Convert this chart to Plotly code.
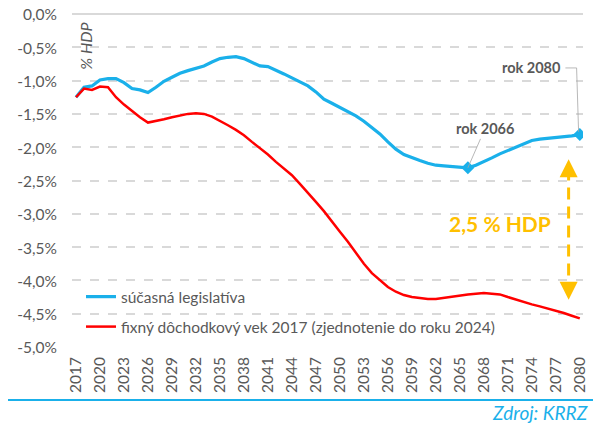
import plotly.graph_objects as go

years = list(range(2017, 2081))

# súčasná legislatíva (% HDP)
current_law = [
    -1.25, -1.10, -1.08, -0.99, -0.97, -0.97, -1.03, -1.12, -1.14, -1.18,
    -1.10, -1.01, -0.95, -0.89, -0.85, -0.81, -0.78, -0.72, -0.67, -0.65,
    -0.64, -0.67, -0.72, -0.78, -0.79, -0.84, -0.90, -0.96, -1.02, -1.08,
    -1.17, -1.28, -1.34, -1.40, -1.46, -1.53, -1.61, -1.70, -1.80, -1.92,
    -2.03, -2.11, -2.16, -2.20, -2.24, -2.27, -2.28, -2.29, -2.30, -2.31,
    -2.27, -2.22, -2.16, -2.10, -2.05, -1.99, -1.94, -1.90, -1.88, -1.87,
    -1.86, -1.85, -1.83, -1.81,
]

# fixný dôchodkový vek 2017 (% HDP)
fixed_age = [
    -1.25, -1.12, -1.14, -1.09, -1.10, -1.25, -1.36, -1.46, -1.55, -1.63,
    -1.61, -1.58, -1.55, -1.52, -1.50, -1.49, -1.50, -1.54, -1.60, -1.67,
    -1.74, -1.82, -1.92, -2.01, -2.11, -2.22, -2.32, -2.42, -2.55, -2.68,
    -2.82, -2.96, -3.12, -3.27, -3.42, -3.58, -3.75, -3.89, -3.99, -4.10,
    -4.17, -4.22, -4.25, -4.27, -4.28, -4.28, -4.26, -4.24, -4.22, -4.21,
    -4.20, -4.19, -4.20, -4.21, -4.25, -4.29, -4.33, -4.36, -4.39, -4.42,
    -4.46, -4.49, -4.53, -4.57,
]

x_ticks = list(range(2017, 2081, 3))
y_ticks = [0, -0.5, -1, -1.5, -2, -2.5, -3, -3.5, -4, -4.5, -5]
y_labels = ["0,0%", "-0,5%", "-1,0%", "-1,5%", "-2,0%", "-2,5%",
            "-3,0%", "-3,5%", "-4,0%", "-4,5%", "-5,0%"]

marked_years = [2066, 2080]

BLUE = "#1ab0ea"
RED = "#ff0000"
GOLD = "#ffc000"
GREY = "#595959"
FONT = "Lato"

fig = go.Figure()

fig.add_trace(go.Scatter(
    x=years, y=current_law, mode="lines",
    name="súčasná legislatíva",
    line=dict(color=BLUE, width=3.2),
    legend="legend",
))
fig.add_trace(go.Scatter(
    x=years, y=fixed_age, mode="lines",
    name="fixný dôchodkový vek 2017 (zjednotenie do roku 2024)",
    line=dict(color=RED, width=2.5),
    legend="legend2",
))
fig.add_trace(go.Scatter(
    x=marked_years,
    y=[current_law[years.index(y)] for y in marked_years],
    mode="markers",
    marker=dict(symbol="diamond", size=10, color=BLUE),
    showlegend=False,
))

legend_style = dict(
    xanchor="left", yanchor="middle", bgcolor="rgba(0,0,0,0)",
    font=dict(family=FONT, size=15.5, color=GREY), itemwidth=30,
)

# the page body adds an 8px offset, so the figure is 8px smaller than the window
fig.update_layout(
    width=593, height=416,
    margin=dict(l=64, r=18, t=6, b=77),
    paper_bgcolor="white", plot_bgcolor="white",
    font=dict(family=FONT, color=GREY),
    legend=dict(x=0.0176, y=0.150, **legend_style),
    legend2=dict(x=0.0176, y=0.060, **legend_style),
    xaxis=dict(
        range=[2016.5, 2080.4], tickvals=x_ticks, tickangle=-90,
        showgrid=False, zeroline=False, showline=False, automargin=False,
        tickfont=dict(family=FONT, size=15.5, color=GREY),
        ticklabelstandoff=6,
    ),
    yaxis=dict(
        range=[-5, 0], tickvals=y_ticks, ticktext=y_labels, automargin=False,
        showgrid=True, gridcolor="#d9d9d9", griddash="dash", gridwidth=1.5,
        zeroline=True, zerolinecolor="#d9d9d9", zerolinewidth=1.5,
        tickfont=dict(family=FONT, size=15.5, color=GREY),
        ticklabelstandoff=14, ticklabeloverflow="allow", ticklabelshift=1,
    ),
)

# "% HDP" axis caption
fig.add_annotation(
    text="<i>% HDP</i>", xref="paper", yref="paper", x=0.027, y=0.904,
    xanchor="center", yanchor="middle",
    textangle=-90, showarrow=False,
    font=dict(family=FONT, size=16, color=GREY),
)

# rok 2066 with leader line
fig.add_annotation(
    text="<b>rok 2066</b>", x=2066, y=current_law[years.index(2066)],
    ax=17, ay=-39, showarrow=True, arrowhead=0, arrowwidth=0.8,
    arrowcolor="#a6a6a6", font=dict(family=FONT, size=14.5, color=GREY),
)

# rok 2080 with elbow leader line
fig.add_annotation(
    text="<b>rok 2080</b>", x=2077.9, y=-0.81, showarrow=False,
    xanchor="right", font=dict(family=FONT, size=14.5, color=GREY),
)
fig.add_shape(
    type="path", path="M 2078.2,-0.81 L 2079.6,-0.81 L 2079.85,-1.77",
    line=dict(color="#a6a6a6", width=0.8),
)

# dashed double arrow: gap between the scenarios
arrow_x = 2078.6
fig.add_shape(
    type="line", x0=arrow_x, x1=arrow_x, y0=-2.32, y1=-4.15,
    line=dict(color=GOLD, width=3, dash="12px,7px"),
)
fig.add_annotation(
    x=arrow_x, y=-2.18, ax=arrow_x, ay=-2.30, axref="x", ayref="y",
    text="", showarrow=True, arrowhead=2, arrowsize=1.2, arrowwidth=3,
    arrowcolor=GOLD,
)
fig.add_annotation(
    x=arrow_x, y=-4.29, ax=arrow_x, ay=-4.17, axref="x", ayref="y",
    text="", showarrow=True, arrowhead=2, arrowsize=1.2, arrowwidth=3,
    arrowcolor=GOLD,
)
fig.add_annotation(
    text="<b>2,5 % HDP</b>", x=2070.0, y=-3.14, showarrow=False,
    font=dict(family=FONT, size=21, color=GOLD),
)

# source line
fig.add_shape(
    type="line", xref="paper", yref="paper", x0=-0.16, x1=1.04,
    y0=-0.159, y1=-0.159, line=dict(color=BLUE, width=2),
)
fig.add_annotation(
    text="<i>Zdroj: KRRZ</i>", xref="paper", yref="paper", x=1.0137, y=-0.198,
    xanchor="right", yanchor="middle", showarrow=False,
    font=dict(family=FONT, size=19, color=BLUE),
)

fig.write_html("out.html")
